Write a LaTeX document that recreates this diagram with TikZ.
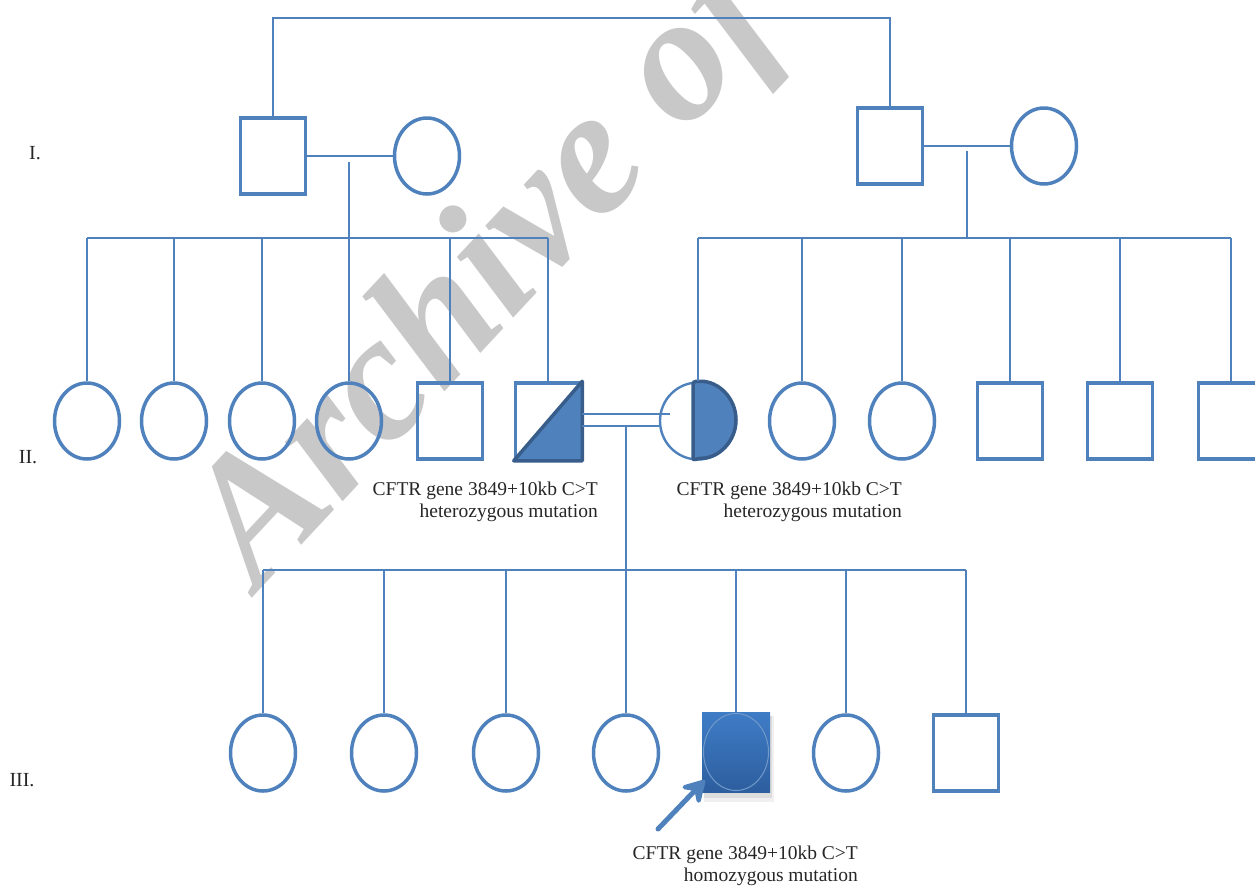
\documentclass[tikz,border=0pt]{standalone}
\usepackage{fontspec}
\setmainfont{Liberation Serif}
\usetikzlibrary{shapes.geometric,arrows.meta}
\definecolor{pblue}{HTML}{4F81BD}
\definecolor{pdark}{HTML}{385D8A}
\definecolor{wm}{HTML}{C8C8C8}
\definecolor{gtop}{HTML}{3F7CC6}
\definecolor{gbot}{HTML}{2D5E9E}
\begin{document}
\begin{tikzpicture}[x=1pt,y=-1pt,
  male/.style={draw=pblue, line width=3.5pt, rectangle, minimum width=65pt, minimum height=76pt, inner sep=0pt},
  female/.style={draw=pblue, line width=3.5pt, ellipse, minimum width=65pt, minimum height=76pt, inner sep=0pt},
  link/.style={draw=pblue, line width=1.6pt},
  gen/.style={font=\fontsize{20}{22}\selectfont, text=black!85},
  note/.style={font=\fontsize{19.5}{22}\selectfont, align=right, inner sep=0pt, anchor=east, text=black!85}]
\useasboundingbox (0,0) rectangle (1255,887);
\clip (0,0) rectangle (1255,887);

% watermark
\node[rotate=47, anchor=base west, font=\fontsize{180}{180}\selectfont\bfseries\itshape, text=wm, inner sep=0pt] (wmark) at (258,592) {Archive of};

% generation labels
\node[gen] (gI) at (35,153) {I.};
\node[gen] (gII) at (28,457) {II.};
\node[gen] (gIII) at (22,780) {III.};

% generation I
\node[male] (I1) at (273,156) {};
\node[female] (I2) at (427,156) {};
\node[male] (I3) at (890,146) {};
\node[female] (I4) at (1044,146) {};

\coordinate (top) at (580,18);
\draw[link, line width=1.2pt] (I1.north) -- (I1.north |- top) -- (I3.north |- top) -- (I3.north);
\draw[link] (I1.east) -- (I2.west);
\draw[link] (I3.east) -- (I4.west);

\coordinate (dI1) at (349,162);
\coordinate (sI1) at (349,238);
\coordinate (dI2) at (967,151);
\coordinate (sI2) at (967,238);
\draw[link] (dI1) -- (sI1);
\draw[link] (dI2) -- (sI2);

% generation II
\node[female] (II1) at (87,421) {};
\node[female] (II2) at (174,421) {};
\node[female] (II3) at (262,421) {};
\node[female] (II4) at (349,421) {};
\node[male] (II5) at (450,421) {};
\node[male] (II6) at (548,421) {};
\node[draw=pblue, line width=2.4pt, ellipse, minimum width=76pt, minimum height=77pt, inner sep=0pt] (II7) at (698,421) {};
\node[female] (II8) at (802,421) {};
\node[female] (II9) at (902,421) {};
\node[male] (II10) at (1010,421) {};
\node[male] (II11) at (1120,421) {};
\node[male] (II12) at (1231,421) {};

\filldraw[fill=pblue, draw=pdark, line width=3.5pt, line join=round] (II6.south west) -- (II6.north east) -- (II6.south east) -- cycle;
\filldraw[fill=pblue, draw=pdark, line width=3.5pt, rounded corners=3pt] ([xshift=-5pt]II7.north) -- (II7.north) arc[start angle=90, end angle=-90, x radius=38pt, y radius=38.5pt] -- ([xshift=-5pt]II7.south) -- cycle;

\draw[link] (II1.north |- sI1) -- (II6.north |- sI1);
\foreach \n in {II1,II2,II3,II4,II5,II6} \draw[link] (\n.north) -- (\n.north |- sI1);
\draw[link] (II7.north |- sI2) -- (II12.north |- sI2);
\foreach \n in {II7,II8,II9,II10,II11,II12} \draw[link] (\n.north) -- (\n.north |- sI2);

% consanguineous marriage
\coordinate (dl1) at (670,414);
\coordinate (dl2) at (626,426);
\draw[link] (II6.east |- dl1) -- (dl1);
\draw[link] (II6.east |- dl2) -- (II7.west |- dl2);
\coordinate (sIII) at (626,570);
\draw[link] (dl2) -- (sIII);

% generation III
\node[female] (III1) at (263,753) {};
\node[female] (III2) at (384,753) {};
\node[female] (III3) at (506,753) {};
\node[female] (III4) at (626,753) {};
\fill[black, opacity=0.06] (704,716) rectangle (774,802);
\fill[black, opacity=0.08] (704,716) rectangle (772,798);
\node[rectangle, minimum width=68pt, minimum height=80pt, inner sep=0pt, top color=gtop, bottom color=gbot] (III5) at (736,752) {};
\node[ellipse, draw=pblue!80!white, line width=1pt, minimum width=65pt, minimum height=77pt, inner sep=0pt] (III5e) at (III5.center) {};
\node[female] (III6) at (846,753) {};
\node[male] (III7) at (966,753) {};

\draw[link] (III1.north |- sIII) -- (III7.north |- sIII);
\foreach \n in {III1,III2,III3,III4,III5,III6,III7} \draw[link] (\n.north) -- (\n.north |- sIII);

% proband arrow
\coordinate (atail) at (658,829);
\draw[pblue, line width=5pt, line cap=round, -{Stealth[length=28pt, width=32pt, inset=11pt, round]}] (atail) -- ([shift={(3,-12)}]III5.south west);

% notes
\node[note] (L1) at (598,502) {CFTR gene 3849+10kb C>T\\heterozygous mutation};
\node[note] (L2) at (902,502) {CFTR gene 3849+10kb C>T\\heterozygous mutation};
\node[note] (L3) at (858,866) {CFTR gene 3849+10kb C>T\\homozygous mutation};
\end{tikzpicture}
\end{document}
